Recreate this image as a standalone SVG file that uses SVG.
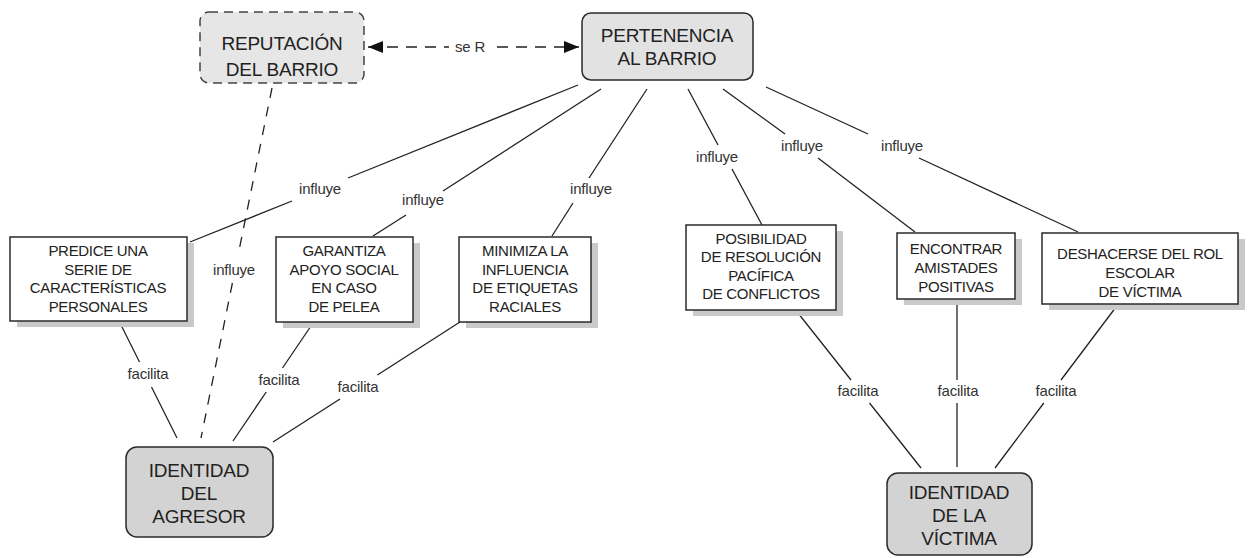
<svg xmlns="http://www.w3.org/2000/svg" width="1248" height="558" viewBox="0 0 1248 558">
<style>
  text { font-family: "Liberation Sans", Arial, sans-serif; fill: #222; text-anchor: middle; }
  .big { font-size: 19px; letter-spacing: -0.2px; }
  .small { font-size: 15px; letter-spacing: -0.3px; }
  .lbl { font-size: 15px; fill: #333; letter-spacing: -0.2px; }
  .box { fill: #ffffff; stroke: #2a2a2a; stroke-width: 1.5; }
  .shadow { fill: #c9c9c9; stroke: none; }
  .concept { stroke: #2a2a2a; stroke-width: 1.5; }
  .ln { stroke: #222; stroke-width: 1.3; fill: none; stroke-linecap: butt; }
  .dash { stroke-dasharray: 10 9; }
  .arr { stroke-dasharray: 11 8; }
</style>
<defs>
  <marker id="head" markerUnits="userSpaceOnUse" markerWidth="16" markerHeight="14" refX="15" refY="7" orient="auto-start-reverse">
    <path d="M0,1 L15,7 L0,13 z" fill="#111"/>
  </marker>
</defs>
<rect width="1248" height="558" fill="#ffffff"/>

<g id="connectors">
  <!-- arrow reputacion <-> pertenencia -->
  <line class="ln arr" x1="368" y1="47" x2="449" y2="47" marker-start="url(#head)"/>
  <line class="ln arr" x1="497" y1="47" x2="579" y2="47" marker-end="url(#head)"/>
  <text class="lbl" x="470" y="52">se R</text>

  <!-- pertenencia -> predice -->
  <line class="ln" x1="578" y1="85" x2="348" y2="178"/>
  <line class="ln" x1="292" y1="201" x2="190" y2="242"/>
  <text class="lbl" x="320" y="194">influye</text>
  <!-- pertenencia -> garantiza -->
  <line class="ln" x1="601" y1="89" x2="443" y2="191"/>
  <line class="ln" x1="406" y1="215" x2="373" y2="236"/>
  <text class="lbl" x="423" y="205">influye</text>
  <!-- pertenencia -> minimiza -->
  <line class="ln" x1="647" y1="89" x2="589" y2="178"/>
  <line class="ln" x1="573" y1="203" x2="552" y2="236"/>
  <text class="lbl" x="591" y="194">influye</text>
  <!-- pertenencia -> posibilidad -->
  <line class="ln" x1="688" y1="89" x2="718" y2="145"/>
  <line class="ln" x1="732" y1="169" x2="762" y2="225"/>
  <text class="lbl" x="717" y="162">influye</text>
  <!-- pertenencia -> encontrar -->
  <line class="ln" x1="723" y1="89" x2="785" y2="134"/>
  <line class="ln" x1="818" y1="158" x2="915" y2="232"/>
  <text class="lbl" x="802" y="151">influye</text>
  <!-- pertenencia -> deshacerse -->
  <line class="ln" x1="766" y1="87" x2="868" y2="134"/>
  <line class="ln" x1="919" y1="158" x2="1078" y2="232"/>
  <text class="lbl" x="902" y="151">influye</text>

  <!-- reputacion -> agresor (dashed) -->
  <line class="ln dash" x1="272" y1="88" x2="238.7" y2="252"/>
  <line class="ln dash" x1="232.4" y1="283" x2="201" y2="438"/>
  <text class="lbl" x="234" y="275">influye</text>

  <!-- predice -> agresor -->
  <line class="ln" x1="120" y1="323" x2="139.5" y2="362"/>
  <line class="ln" x1="151.5" y1="387" x2="177" y2="438"/>
  <text class="lbl" x="148" y="379">facilita</text>
  <!-- garantiza -> agresor -->
  <line class="ln" x1="313" y1="323" x2="282.5" y2="368"/>
  <line class="ln" x1="266.2" y1="392" x2="233" y2="441"/>
  <text class="lbl" x="279" y="385">facilita</text>
  <!-- minimiza -> agresor -->
  <line class="ln" x1="460" y1="322" x2="377.4" y2="375"/>
  <line class="ln" x1="340" y1="399" x2="273" y2="442"/>
  <text class="lbl" x="358" y="392">facilita</text>

  <!-- posibilidad -> victima -->
  <line class="ln" x1="798" y1="313" x2="851" y2="380"/>
  <line class="ln" x1="869.5" y1="403" x2="921" y2="468"/>
  <text class="lbl" x="858" y="396">facilita</text>
  <!-- encontrar -> victima -->
  <line class="ln" x1="957" y1="304" x2="957" y2="380"/>
  <line class="ln" x1="957" y1="403" x2="957" y2="467"/>
  <text class="lbl" x="958" y="396">facilita</text>
  <!-- deshacerse -> victima -->
  <line class="ln" x1="1116" y1="307" x2="1061" y2="380"/>
  <line class="ln" x1="1043.8" y1="403" x2="995" y2="468"/>
  <text class="lbl" x="1056" y="396">facilita</text>
</g>

<g id="reputacion">
  <rect x="200" y="12" width="164" height="71" rx="9" fill="#e6e6e6" stroke="#444" stroke-width="1.5" stroke-dasharray="9 6"/>
  <text class="big" x="282" y="50">REPUTACIÓN</text>
  <text class="big" x="282" y="76">DEL BARRIO</text>
</g>

<g id="pertenencia">
  <rect class="concept" x="582" y="13" width="171" height="67" rx="9" fill="#e2e2e2"/>
  <text class="big" x="667" y="42">PERTENENCIA</text>
  <text class="big" x="667" y="65">AL BARRIO</text>
</g>

<g id="predice">
  <rect class="shadow" x="17" y="243" width="177" height="84"/>
  <rect class="box" x="10" y="237" width="177" height="84"/>
  <text class="small" x="98" y="256">PREDICE UNA</text>
  <text class="small" x="98" y="274.5">SERIE DE</text>
  <text class="small" x="98" y="293">CARACTERÍSTICAS</text>
  <text class="small" x="98" y="311.5">PERSONALES</text>
</g>

<g id="garantiza">
  <rect class="shadow" x="283" y="243" width="137" height="85"/>
  <rect class="box" x="276" y="237" width="137" height="85"/>
  <text class="small" x="344" y="256">GARANTIZA</text>
  <text class="small" x="344" y="274.5">APOYO SOCIAL</text>
  <text class="small" x="344" y="293">EN CASO</text>
  <text class="small" x="344" y="311.5">DE PELEA</text>
</g>

<g id="minimiza">
  <rect class="shadow" x="466" y="243" width="132" height="85"/>
  <rect class="box" x="459" y="237" width="132" height="85"/>
  <text class="small" x="525" y="256">MINIMIZA LA</text>
  <text class="small" x="525" y="274.5">INFLUENCIA</text>
  <text class="small" x="525" y="293">DE ETIQUETAS</text>
  <text class="small" x="525" y="311.5">RACIALES</text>
</g>

<g id="posibilidad">
  <rect class="shadow" x="693" y="231" width="150" height="85"/>
  <rect class="box" x="686" y="225" width="150" height="85"/>
  <text class="small" x="761" y="243.5">POSIBILIDAD</text>
  <text class="small" x="761" y="262">DE RESOLUCIÓN</text>
  <text class="small" x="761" y="280.5">PACÍFICA</text>
  <text class="small" x="761" y="299">DE CONFLICTOS</text>
</g>

<g id="encontrar">
  <rect class="shadow" x="904" y="239" width="118" height="66"/>
  <rect class="box" x="897" y="233" width="118" height="66"/>
  <text class="small" x="956" y="253.5">ENCONTRAR</text>
  <text class="small" x="956" y="272.5">AMISTADES</text>
  <text class="small" x="956" y="291.5">POSITIVAS</text>
</g>

<g id="deshacerse">
  <rect class="shadow" x="1049" y="239" width="196" height="71"/>
  <rect class="box" x="1042" y="233" width="196" height="71"/>
  <text class="small" x="1140" y="258.5">DESHACERSE DEL ROL</text>
  <text class="small" x="1140" y="277.5">ESCOLAR</text>
  <text class="small" x="1140" y="296.5">DE VÍCTIMA</text>
</g>

<g id="agresor">
  <rect class="concept" x="126" y="447" width="147" height="90" rx="11" fill="#d3d3d3"/>
  <text class="big" x="199" y="477">IDENTIDAD</text>
  <text class="big" x="199" y="500">DEL</text>
  <text class="big" x="199" y="523">AGRESOR</text>
</g>

<g id="victima">
  <rect class="concept" x="887" y="473" width="145" height="82" rx="11" fill="#d3d3d3"/>
  <text class="big" x="959" y="499">IDENTIDAD</text>
  <text class="big" x="959" y="522">DE LA</text>
  <text class="big" x="959" y="545">VÍCTIMA</text>
</g>
</svg>
